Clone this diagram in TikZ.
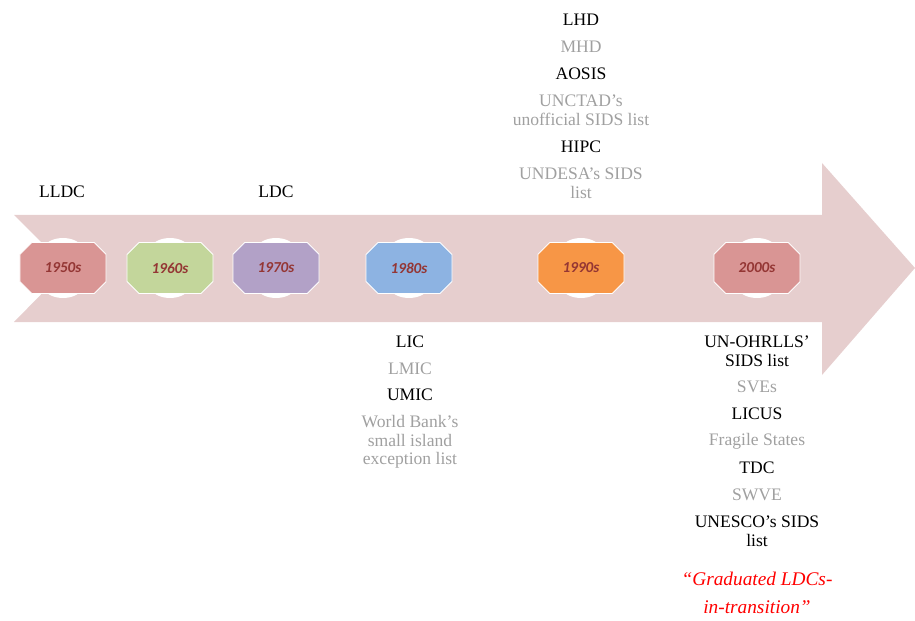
\documentclass[tikz,border=0pt]{standalone}
\usepackage{fontspec}
\usepackage{tikz}
\usetikzlibrary{shapes.misc}
\setmainfont{Liberation Serif}
\newfontfamily\labelfont{Liberation Serif}
\newfontfamily\yearfont{Carlito}

\definecolor{arrowpink}{RGB}{230,206,206}
\definecolor{yearred}{RGB}{148,54,52}
\definecolor{softgray}{RGB}{160,160,160}
\definecolor{boxred}{RGB}{217,149,148}
\definecolor{boxgreen}{RGB}{195,214,155}
\definecolor{boxpurple}{RGB}{178,161,199}
\definecolor{boxblue}{RGB}{141,179,226}
\definecolor{boxorange}{RGB}{247,150,70}

\begin{document}
\begin{tikzpicture}[x=0.03cm, y=-0.03cm,
    yearbox/.style={chamfered rectangle, chamfered rectangle xsep=0.2cm,
        chamfered rectangle ysep=0.2cm, minimum width=2.58cm, minimum height=1.53cm,
        draw=white, line width=0.8pt, inner sep=0pt,
        font=\yearfont\bfseries\itshape\fontsize{13}{15}\selectfont, text=yearred},
    groupdark/.style={align=center, text=black, font=\labelfont\fontsize{15}{16}\selectfont},
    grouplight/.style={align=center, text=softgray, font=\labelfont\fontsize{15}{16}\selectfont}]

    \useasboundingbox (0,0) rectangle (915,621);

    % Draw the big timeline arrow
    \fill[arrowpink] (14,215) -- (822,215) -- (822,163) -- (915,268) -- (822,375)
        -- (822,322) -- (14,322) -- (67,268) -- cycle;

    % Draw the white discs behind the decades
    \foreach \cx in {63,170,276,409,581,757}
        \fill[white] (\cx,268) circle (0.9cm);

    % Draw the decades
    \node[yearbox, fill=boxred] (y1950) at (63,268) {1950s};
    \node[yearbox, fill=boxgreen] (y1960) at (170,268) {1960s};
    \node[yearbox, fill=boxpurple] (y1970) at (276,268) {1970s};
    \node[yearbox, fill=boxblue] (y1980) at (409,268) {1980s};
    \node[yearbox, fill=boxorange] (y1990) at (581,268) {1990s};
    \node[yearbox, fill=boxred] (y2000) at (757,268) {2000s};

    % Groups above the arrow
    \node[groupdark] (lldc) at (62,192) {LLDC};
    \node[groupdark] (ldc) at (276,192) {LDC};

    \node[groupdark] (lhd) at (581,20) {LHD};
    \node[grouplight] (mhd) at (581,47) {MHD};
    \node[groupdark] (aosis) at (581,74) {AOSIS};
    \node[grouplight] (unctad) at (581,110) {UNCTAD’s\\unofficial SIDS list};
    \node[groupdark] (hipc) at (581,147) {HIPC};
    \node[grouplight] (undesa) at (581,183) {UNDESA’s SIDS\\list};

    % Groups below the arrow
    \node[groupdark] (lic) at (410,342) {LIC};
    \node[grouplight] (lmic) at (410,369) {LMIC};
    \node[groupdark] (umic) at (410,395) {UMIC};
    \node[grouplight] (wbank) at (410,442) {World Bank’s\\small island\\exception list};

    \node[groupdark] (ohrlls) at (757,351) {UN-OHRLLS’\\SIDS list};
    \node[grouplight] (sves) at (757,387) {SVEs};
    \node[groupdark] (licus) at (757,414) {LICUS};
    \node[grouplight] (fragile) at (757,441) {Fragile States};
    \node[groupdark] (tdc) at (757,468) {TDC};
    \node[grouplight] (swve) at (757,495) {SWVE};
    \node[groupdark] (unesco) at (757,531) {UNESCO’s SIDS\\list};
    \node[align=center, text=red, font=\labelfont\itshape\fontsize{16.5}{24}\selectfont] (graduated)
        at (757,593) {“Graduated LDCs-\\in-transition”};

\end{tikzpicture}
\end{document}
